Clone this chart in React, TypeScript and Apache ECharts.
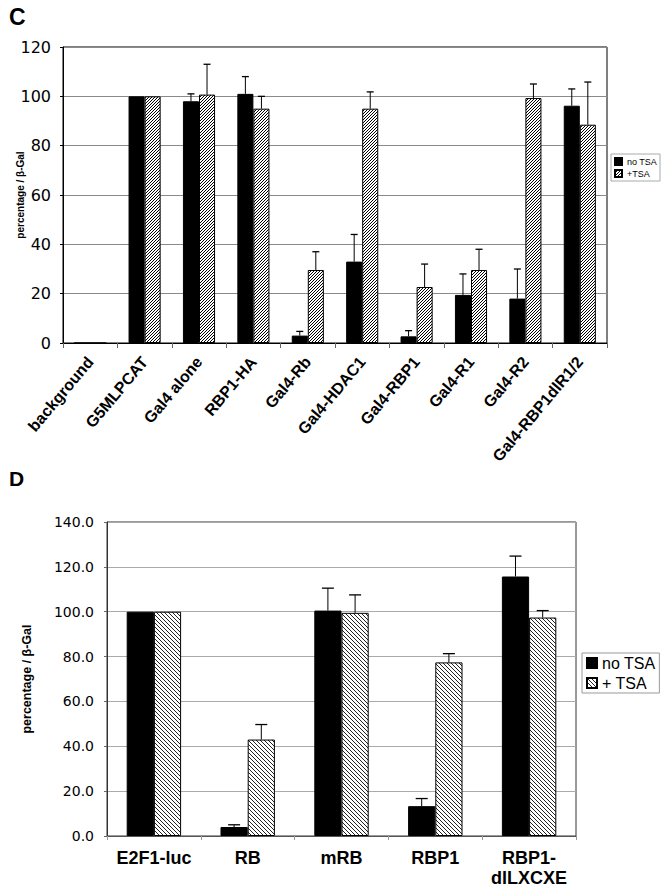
import React, { useEffect, useRef } from 'react';
import * as echarts from 'echarts';

// ---------- Panel C data ----------
const catsC = ['background', 'G5MLPCAT', 'Gal4 alone', 'RBP1-HA', 'Gal4-Rb', 'Gal4-HDAC1', 'Gal4-RBP1', 'Gal4-R1', 'Gal4-R2', 'Gal4-RBP1dlR1/2'];
const noTsaC = [0, 100, 98, 101, 3, 33, 2.7, 19.5, 18, 96.2];
const errNoTsaC = [0, 0, 3, 7, 1.7, 11, 2.3, 8.5, 12, 6.8];
const tsaC = [0, 100, 100.7, 95, 29.6, 95, 22.7, 29.6, 99.3, 88.5];
const errTsaC = [0, 0, 12.3, 5, 7.4, 6.8, 9.3, 8.4, 5.7, 17.3];
const yTicksC = [0, 20, 40, 60, 80, 100, 120];

// ---------- Panel D data ----------
const catsD = ['E2F1-luc', 'RB', 'mRB', 'RBP1', 'RBP1-\ndlLXCXE'];
const noTsaD = [100, 4.0, 100.5, 13.3, 115.7];
const errNoTsaD = [0, 1, 10, 3.4, 9.1];
const tsaD = [100, 43, 99.5, 77.4, 97.4];
const errTsaD = [0, 6.7, 8, 3.9, 3.1];
const yTicksD = [0, 20, 40, 60, 80, 100, 120, 140];

const FONT = '"Liberation Sans", Arial, sans-serif';
const NUMFONT = '"DejaVu Sans", "Liberation Sans", sans-serif';

function makeHatch(dir: 'fwd' | 'back', size: number, lw: number, color: string) {
  const c = document.createElement('canvas');
  c.width = size;
  c.height = size;
  const ctx = c.getContext('2d')!;
  ctx.fillStyle = '#fff';
  ctx.fillRect(0, 0, size, size);
  ctx.strokeStyle = color;
  ctx.lineWidth = lw;
  ctx.beginPath();
  if (dir === 'fwd') {
    ctx.moveTo(0, size); ctx.lineTo(size, 0);
    ctx.moveTo(-1, 1); ctx.lineTo(1, -1);
    ctx.moveTo(size - 1, size + 1); ctx.lineTo(size + 1, size - 1);
  } else {
    ctx.moveTo(0, 0); ctx.lineTo(size, size);
    ctx.moveTo(-1, size - 1); ctx.lineTo(1, size + 1);
    ctx.moveTo(size - 1, -1); ctx.lineTo(size + 1, 1);
  }
  ctx.stroke();
  return { image: c.toDataURL(), repeat: 'repeat', imageWidth: size, imageHeight: size } as any;
}

const GAP_C = 0.41;
const GAP_D = 0.42;

function errSeries(name: string, idx: number, vals: number[], errs: number[], side: number, gap: number, cap: number) {
  return {
    type: 'custom',
    name,
    xAxisIndex: idx,
    yAxisIndex: idx,
    z: 5,
    silent: true,
    data: vals.map((v, i) => [i, v, errs[i]]),
    encode: { x: 0, y: 1 },
    renderItem: (_params: any, api: any) => {
      const e = api.value(2);
      if (!e) return null;
      const i = api.value(0);
      const v = api.value(1);
      const band = api.size([1, 0])[0];
      const bw = (band * (1 - gap)) / 2;
      const base = api.coord([i, v]);
      const top = api.coord([i, v + e]);
      const x = base[0] + (side * bw) / 2;
      return {
        type: 'group',
        children: [
          { type: 'line', shape: { x1: x, y1: base[1], x2: x, y2: top[1] }, style: { stroke: '#000', lineWidth: 1 } },
          { type: 'line', shape: { x1: x - cap, y1: top[1], x2: x + cap, y2: top[1] }, style: { stroke: '#000', lineWidth: 1.3 } },
        ],
      };
    },
  };
}

export default function App() {
  const ref = useRef<HTMLDivElement>(null);
  useEffect(() => {
    if (!ref.current) return;
    const chart = echarts.init(ref.current, undefined, { renderer: 'svg' });
    const hatchC = makeHatch('fwd', 3, 1, '#000');
    const hatchD = makeHatch('back', 4, 1, '#222');

    const option: any = {
      animation: false,
      backgroundColor: '#fff',
      title: [
        { text: 'C', left: 4, top: 0, textStyle: { fontSize: 23, fontWeight: 'bold', fontFamily: FONT, color: '#000' } },
        { text: 'D', left: 4, top: 463, textStyle: { fontSize: 21, fontWeight: 'bold', fontFamily: FONT, color: '#000' } },
      ],
      legend: [
        {
          data: ['no TSA', '+TSA'],
          orient: 'vertical',
          left: 611,
          top: 154,
          icon: 'rect',
          itemWidth: 7,
          itemHeight: 7,
          itemGap: 3,
          itemTextGap: 2,
          padding: [3, 3, 3, 3],
          borderColor: '#aaa',
          borderWidth: 1,
          selectedMode: false,
          textStyle: { fontSize: 9, fontFamily: FONT, color: '#000' },
        },
        {
          data: ['no TSA', '+ TSA'],
          orient: 'vertical',
          left: 582,
          top: 653,
          icon: 'rect',
          itemWidth: 10,
          itemHeight: 10,
          itemGap: 4,
          itemTextGap: 3,
          padding: [2, 4, 2, 4],
          borderColor: '#999',
          borderWidth: 1,
          selectedMode: false,
          textStyle: { fontSize: 16, fontFamily: FONT, color: '#000' },
        },
      ],
      grid: [
        { left: 63, right: 56, top: 47, bottom: 548, show: true, borderColor: '#000', borderWidth: 1, outerBoundsMode: 'none' },
        { left: 107, right: 87, top: 522, bottom: 55, show: true, borderColor: '#333', borderWidth: 1, outerBoundsMode: 'none' },
      ],
      xAxis: [
        {
          type: 'category',
          gridIndex: 0,
          data: catsC,
          axisLine: { lineStyle: { color: '#000', width: 1 } },
          axisTick: { show: true, length: 5, lineStyle: { color: '#666' } },
          axisLabel: { interval: 0, rotate: 50, margin: 16, fontSize: 16, fontWeight: 'bold', fontFamily: FONT, color: '#000' },
        },
        {
          type: 'category',
          gridIndex: 1,
          data: catsD,
          axisLine: { lineStyle: { color: '#555', width: 1 } },
          axisTick: { show: true, length: 4, lineStyle: { color: '#999' } },
          axisLabel: { interval: 0, margin: 12, fontSize: 18, lineHeight: 20, fontWeight: 'bold', fontFamily: FONT, color: '#000' },
        },
      ],
      yAxis: [
        {
          type: 'value',
          gridIndex: 0,
          min: yTicksC[0],
          max: yTicksC[yTicksC.length - 1],
          interval: yTicksC[1] - yTicksC[0],
          name: 'percentage / β-Gal',
          nameLocation: 'middle',
          nameGap: 38,
          nameMoveOverlap: false,
          nameTextStyle: { fontSize: 10, fontWeight: 'bold', fontFamily: FONT, color: '#000' },
          axisLine: { show: true, lineStyle: { color: '#000', width: 1 } },
          axisTick: { show: true, length: 3, lineStyle: { color: '#000' } },
          axisLabel: { margin: 12, fontSize: 16, fontFamily: NUMFONT, color: '#000' },
          splitLine: { lineStyle: { color: '#8a8a8a', width: 1 } },
        },
        {
          type: 'value',
          gridIndex: 1,
          min: yTicksD[0],
          max: yTicksD[yTicksD.length - 1],
          interval: yTicksD[1] - yTicksD[0],
          name: 'percentage / β-Gal',
          nameLocation: 'middle',
          nameGap: 74,
          nameMoveOverlap: false,
          nameTextStyle: { fontSize: 12.5, fontWeight: 'bold', fontFamily: FONT, color: '#000' },
          axisLine: { show: true, lineStyle: { color: '#333', width: 1 } },
          axisTick: { show: true, length: 3, lineStyle: { color: '#666' } },
          axisLabel: { margin: 13, fontSize: 14, fontFamily: NUMFONT, color: '#000', formatter: (v: number) => v.toFixed(1) },
          splitLine: { lineStyle: { color: '#aaa', width: 1 } },
        },
      ],
      series: [
        {
          type: 'bar', name: 'no TSA', xAxisIndex: 0, yAxisIndex: 0, data: noTsaC,
          barGap: '0%', barCategoryGap: GAP_C * 100 + '%',
          itemStyle: { color: '#000', borderColor: '#000', borderWidth: 1 },
        },
        {
          type: 'bar', name: '+TSA', xAxisIndex: 0, yAxisIndex: 0, data: tsaC,
          barGap: '0%', barCategoryGap: GAP_C * 100 + '%',
          itemStyle: { color: hatchC, borderColor: '#000', borderWidth: 1 },
        },
        {
          type: 'bar', name: 'no TSA', xAxisIndex: 1, yAxisIndex: 1, data: noTsaD,
          barGap: '0%', barCategoryGap: GAP_D * 100 + '%',
          itemStyle: { color: '#000', borderColor: '#000', borderWidth: 1 },
        },
        {
          type: 'bar', name: '+ TSA', xAxisIndex: 1, yAxisIndex: 1, data: tsaD,
          barGap: '0%', barCategoryGap: GAP_D * 100 + '%',
          itemStyle: { color: hatchD, borderColor: '#000', borderWidth: 1 },
        },
        errSeries('errNoTsaC', 0, noTsaC, errNoTsaC, -1, GAP_C, 3.5),
        errSeries('errTsaC', 0, tsaC, errTsaC, 1, GAP_C, 3.5),
        errSeries('errNoTsaD', 1, noTsaD, errNoTsaD, -1, GAP_D, 6),
        errSeries('errTsaD', 1, tsaD, errTsaD, 1, GAP_D, 6),
      ],
    };
    chart.setOption(option);
    return () => chart.dispose();
  }, []);
  return <div ref={ref} style={{ position: 'absolute', left: 0, top: 0, width: 663, height: 891 }} />;
}
